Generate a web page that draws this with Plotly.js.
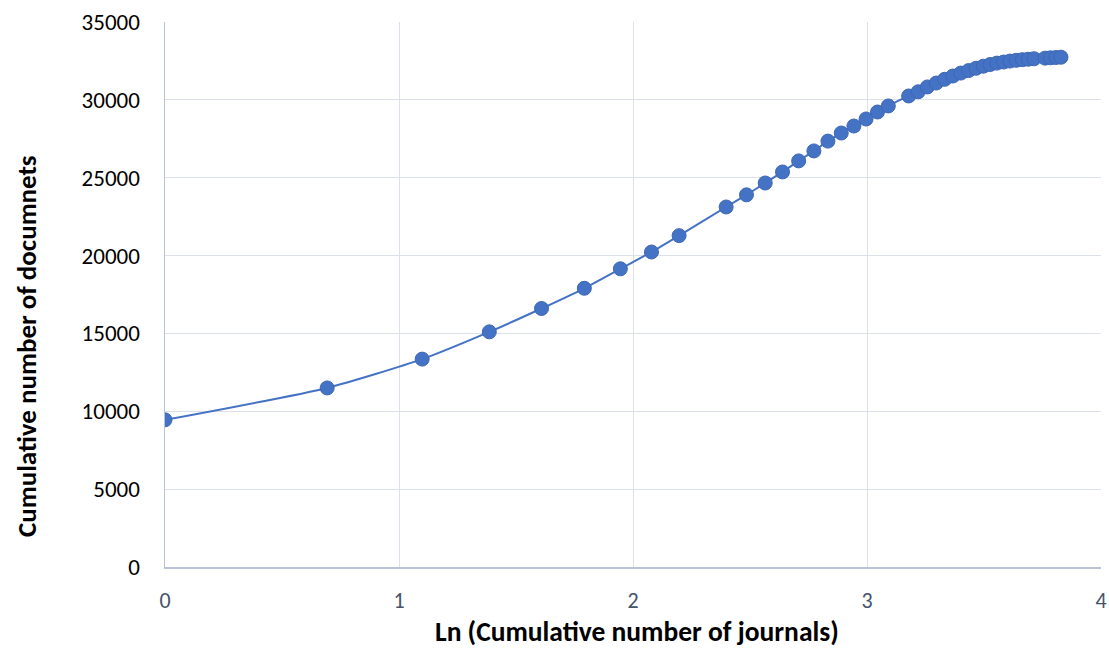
<!DOCTYPE html>
<html>
<head>
<meta charset="utf-8">
<script src="https://cdn.plot.ly/plotly-3.0.1.min.js"></script>
<style>
html,body{margin:0;padding:0;background:#fff;}
#chart{width:1109px;height:650px;}
</style>
</head>
<body>
<div id="chart"></div>
<script>
// Ln(cumulative number of journals)
var lnJournals = [0, 0.693, 1.099, 1.386, 1.609, 1.792, 1.946, 2.079, 2.197,
  2.398, 2.485, 2.565, 2.639, 2.708, 2.773, 2.833, 2.890, 2.944, 2.996, 3.045, 3.091,
  3.178, 3.219, 3.258, 3.296, 3.332, 3.367, 3.401, 3.434, 3.466, 3.497, 3.526, 3.555,
  3.584, 3.611, 3.638, 3.664, 3.689, 3.714, 3.761, 3.784, 3.807, 3.829];
// Cumulative number of documents
var cumDocs = [9450, 11500, 13350, 15100, 16600, 17900, 19150, 20230, 21280,
  23120, 23900, 24660, 25370, 26080, 26720, 27350, 27870, 28320, 28770, 29220, 29610,
  30250, 30520, 30830, 31080, 31320, 31530, 31720, 31880, 32030, 32160, 32270, 32360,
  32430, 32490, 32540, 32580, 32610, 32640, 32680, 32700, 32720, 32740];

var xTicks = [0, 1, 2, 3, 4];
var yTicks = [0, 5000, 10000, 15000, 20000, 25000, 30000, 35000];
var xTitle = 'Ln (Cumulative number of journals)';
var yTitle = 'Cumulative number of documnets';

var trace = {
  x: lnJournals,
  y: cumDocs,
  type: 'scatter',
  mode: 'lines+markers',
  line: {color: '#4472C4', width: 2, shape: 'spline', smoothing: 0.6},
  marker: {color: '#4472C4', size: 14, line: {color: '#3E68B5', width: 1}},
  hoverinfo: 'x+y',
  showlegend: false
};

var fontFam = 'Carlito, Calibri, Lato, sans-serif';

var layout = {
  width: 1109,
  height: 650,
  margin: {l: 165, r: 8, t: 22, b: 83},
  paper_bgcolor: '#ffffff',
  plot_bgcolor: '#ffffff',
  font: {family: fontFam, color: '#000000', size: 23},
  xaxis: {
    range: [0, 4],
    tickvals: xTicks,
    ticktext: xTicks.map(String),
    showgrid: true,
    gridcolor: '#DCE0E8',
    gridwidth: 1,
    zeroline: false,
    showline: true,
    linecolor: '#B8C3D6',
    linewidth: 1.5,
    ticks: '',
    ticklabelstandoff: 13,
    tickfont: {size: 22, color: '#44546A', family: fontFam}
  },
  yaxis: {
    range: [0, 35000],
    tickvals: yTicks,
    ticktext: yTicks.map(String),
    showgrid: true,
    gridcolor: '#DCE0E8',
    gridwidth: 1,
    zeroline: false,
    showline: true,
    linecolor: '#B8C3D6',
    linewidth: 1.5,
    ticks: '',
    ticklabelstandoff: 19,
    tickfont: {size: 23, color: '#000000', family: fontFam}
  },
  annotations: [
    {text: '<b>' + xTitle + '</b>', xref: 'paper', yref: 'paper',
     x: 0.504, y: -0.119, xanchor: 'center', yanchor: 'middle', showarrow: false,
     font: {size: 27.5, color: '#000000', family: fontFam}},
    {text: '<b>' + yTitle + '</b>', xref: 'paper', yref: 'paper', textangle: -90,
     x: -0.1485, y: 0.4055, xanchor: 'center', yanchor: 'middle', showarrow: false,
     font: {size: 27, color: '#000000', family: fontFam}}
  ]
};

Plotly.newPlot('chart', [trace], layout, {displayModeBar: false, staticPlot: true});
</script>
</body>
</html>
